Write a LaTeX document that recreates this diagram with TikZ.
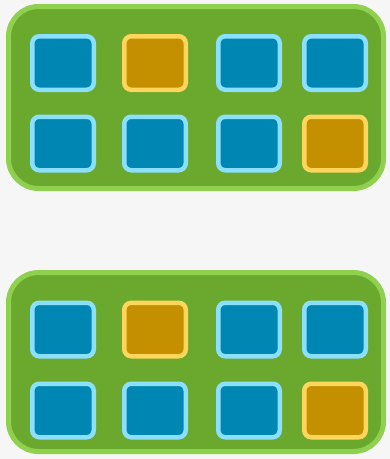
\documentclass[tikz,border=0pt]{standalone}
\definecolor{bgc}{HTML}{F6F6F6}
\definecolor{contfill}{HTML}{6BA92E}
\definecolor{contline}{HTML}{8FD14F}
\definecolor{bluefill}{HTML}{0086B3}
\definecolor{blueline}{HTML}{8CE0FF}
\definecolor{yelfill}{HTML}{C49000}
\definecolor{yelline}{HTML}{FFD65B}
\tikzset{
  container/.style={draw=contline, fill=contfill, line width=5pt, rounded corners=30pt, minimum width=375pt, minimum height=182pt, inner sep=0pt},
  bluebox/.style={draw=blueline, fill=bluefill, line width=4.5pt, rounded corners=7pt, minimum width=61.5pt, minimum height=53.5pt, inner sep=0pt},
  yelbox/.style={draw=yelline, fill=yelfill, line width=4.5pt, rounded corners=7pt, minimum width=61.5pt, minimum height=53.5pt, inner sep=0pt}
}
\begin{document}
\begin{tikzpicture}[x=1pt,y=-1pt]
\fill[bgc] (0,0) rectangle (390,459);
\useasboundingbox (0,0) rectangle (390,459);
% containers
\node[container] (top) at (196,97.5) {};
\node[container, minimum height=179pt] (bot) at (196,362) {};
% top group
\node[bluebox] (a1) at (63,63) {};
\node[yelbox]  (a2) at (155,63) {};
\node[bluebox] (a3) at (249,63) {};
\node[bluebox] (a4) at (335,63) {};
\node[bluebox] (a5) at (63,143.5) {};
\node[bluebox] (a6) at (155,143.5) {};
\node[bluebox] (a7) at (249,143.5) {};
\node[yelbox]  (a8) at (335,143.5) {};
% bottom group
\node[bluebox] (b1) at (63,329.5) {};
\node[yelbox]  (b2) at (155,329.5) {};
\node[bluebox] (b3) at (249,329.5) {};
\node[bluebox] (b4) at (335,329.5) {};
\node[bluebox] (b5) at (63,410.5) {};
\node[bluebox] (b6) at (155,410.5) {};
\node[bluebox] (b7) at (249,410.5) {};
\node[yelbox]  (b8) at (335,410.5) {};
\end{tikzpicture}
\end{document}
